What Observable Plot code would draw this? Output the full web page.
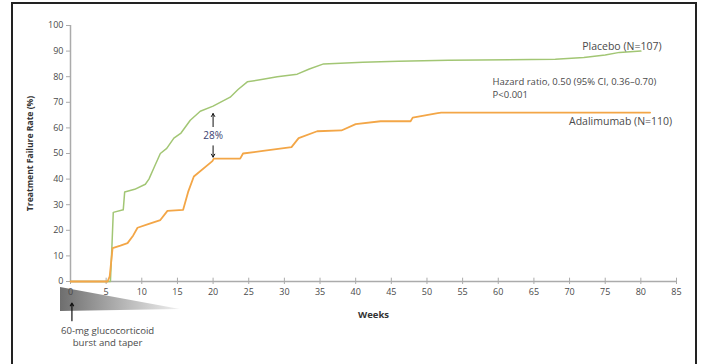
<!DOCTYPE html>
<html>
<head>
<meta charset="utf-8">
<script src="https://cdn.jsdelivr.net/npm/d3@7"></script>
<script src="https://cdn.jsdelivr.net/npm/@observablehq/plot@0.6"></script>
<style>
  html, body { margin: 0; padding: 0; background: #fff; overflow: hidden; }
  #wrap { position: relative; width: 704px; height: 364px; }
  #frame { position: absolute; left: 11px; top: 2px; width: 682px; height: 380px; border: 2px solid #222; pointer-events: none; }
</style>
</head>
<body>
<div id="wrap"><div id="frame"></div></div>
<script>
// Placebo (N=107): weeks and cumulative treatment failure (%)
const placeboWeeks  = [0, 5.6, 5.8, 6, 7.4, 7.6, 9, 10.5, 11, 11.8, 12.6, 13.5, 14.5, 15.5, 16.8, 18.2, 20, 21, 22.4, 23.5, 24.8, 27, 29, 31.8, 33.5, 35.5, 41, 46, 53, 68, 72, 75, 77, 80];
const placeboValues = [0, 0, 13, 27, 28, 35, 36, 38, 40, 45, 50, 52, 56, 58, 63, 66.5, 68.5, 70, 72, 75, 78, 79, 80, 81, 83, 85, 85.6, 86, 86.4, 86.8, 87.5, 88.5, 89.5, 90];
// Adalimumab (N=110)
const adaWeeks  = [0, 5.2, 5.5, 5.9, 7, 8, 8.8, 9.4, 11, 12.6, 13.6, 15.8, 16.5, 17.3, 19.9, 20.1, 23.8, 24.2, 27, 31, 32, 34.6, 38, 40, 43.5, 47.7, 48, 51.5, 52, 81.3];
const adaValues = [0, 0, 2, 13, 14, 15, 18, 21, 22.5, 24, 27.6, 28, 35, 41, 47, 48, 48, 50, 51, 52.5, 56, 58.7, 59, 61.5, 62.6, 62.6, 64, 65.8, 66, 66];

const xTicks = [0, 5, 10, 15, 20, 25, 30, 35, 40, 45, 50, 55, 60, 65, 70, 75, 80, 85];
const yTicks = [0, 10, 20, 30, 40, 50, 60, 70, 80, 90, 100];

const seriesLabels = ["Placebo (N=107)", "Adalimumab (N=110)"];
const hazardText = ["Hazard ratio, 0.50 (95% CI, 0.36\u20130.70)", "P<0.001"];
const diffLabel = "28%";
const steroidText = ["60-mg glucocorticoid", "burst and taper"];

const placebo = placeboWeeks.map((w, i) => ({week: w, value: placeboValues[i]}));
const ada = adaWeeks.map((w, i) => ({week: w, value: adaValues[i]}));

const green = "#a2c674";
const orange = "#f3a647";
const textCol = "#4a4a4a";
const axisCol = "#ababab";

// glucocorticoid taper wedge (below axis)
const taper = [
  {week: -1.4, top: -2.3, bottom: -11.7},
  {week: 15.4, top: -10.9, bottom: -10.9}
];

const chart = Plot.plot({
  width: 704,
  height: 364,
  marginLeft: 70,
  marginRight: 28,
  marginTop: 25,
  marginBottom: 83,
  style: {fontFamily: "'Open Sans', sans-serif", fontSize: "9px", color: textCol, background: "transparent"},
  x: {domain: [0, 85], axis: null},
  y: {domain: [0, 100], axis: null},
  marks: [
    Plot.areaY(taper, {x: "week", y1: "top", y2: "bottom", fill: "url(#taperGrad)"}),
    // axes lines
    Plot.ruleX([0], {y1: 0, y2: 100, stroke: axisCol, strokeWidth: 1.5}),
    Plot.ruleY([0], {x1: 0, x2: 85, stroke: axisCol, strokeWidth: 1.5}),
    Plot.axisY({ticks: yTicks, tickSize: 4, tickPadding: 3, stroke: axisCol, fill: textCol, label: null, fontSize: 9}),
    Plot.axisX({ticks: xTicks, tickSize: 3, tickPadding: 4, stroke: axisCol, fill: textCol, label: null, fontSize: 9}),
    Plot.ruleX(xTicks, {y1: 0, y2: 1.3, stroke: axisCol}),
    // curves
    Plot.line(placebo, {x: "week", y: "value", stroke: green, strokeWidth: 1.5}),
    Plot.line(ada, {x: "week", y: "value", stroke: orange, strokeWidth: 1.8}),
    // difference annotation
    Plot.arrow([{x: 20, y1: 60.5, y2: 65.6}], {x1: "x", x2: "x", y1: "y1", y2: "y2", stroke: "#111", strokeWidth: 1, headLength: 5}),
    Plot.arrow([{x: 20, y1: 53, y2: 48.6}], {x1: "x", x2: "x", y1: "y1", y2: "y2", stroke: "#111", strokeWidth: 1, headLength: 5}),
    Plot.text([diffLabel], {x: 20, y: 56.8, text: d => d, fill: "#3b4170", fontSize: 10}),
    // series labels
    Plot.text([seriesLabels[0]], {x: 82.9, y: 91.8, text: d => d, textAnchor: "end", fill: textCol, fontSize: 10.5}),
    Plot.text([seriesLabels[1]], {x: 84.4, y: 62.6, text: d => d, textAnchor: "end", fill: textCol, fontSize: 10.5}),
    Plot.text([hazardText.join("\n")], {x: 59.2, y: 75.9, text: d => d, textAnchor: "start", lineHeight: 1.42, fill: textCol, fontSize: 9.5}),
    // axis titles
    Plot.text(["Weeks"], {x: 42.5, y: -13, text: d => d, fontWeight: "bold", fill: "#333", fontSize: 9.5}),
    Plot.text(["Treatment Failure Rate (%)"], {x: -5.6, y: 50, text: d => d, rotate: -90, fontWeight: "bold", fill: "#333", fontSize: 8.6}),
    // glucocorticoid note
    Plot.arrow([{x: 0.2, y1: -15.3, y2: -8.4}], {x1: "x", x2: "x", y1: "y1", y2: "y2", stroke: "#111", strokeWidth: 1.2, headLength: 4}),
    Plot.text([steroidText.join("\n")], {x: 5.2, y: -21.4, text: d => d, lineHeight: 1.25, fill: textCol, fontSize: 9.6})
  ]
});

const svg = d3.select(chart);
const defs = svg.insert("defs", ":first-child");
const grad = defs.append("linearGradient").attr("id", "taperGrad").attr("x1", "0%").attr("x2", "100%").attr("y1", "0%").attr("y2", "0%");
grad.append("stop").attr("offset", "0%").attr("stop-color", "#6e6e6e");
grad.append("stop").attr("offset", "55%").attr("stop-color", "#b8b8b8");
grad.append("stop").attr("offset", "100%").attr("stop-color", "#f0f0f0");

document.getElementById("wrap").insertBefore(chart, document.getElementById("frame"));
chart.style.position = "absolute";
chart.style.left = "0px";
chart.style.top = "0px";
</script>
</body>
</html>
